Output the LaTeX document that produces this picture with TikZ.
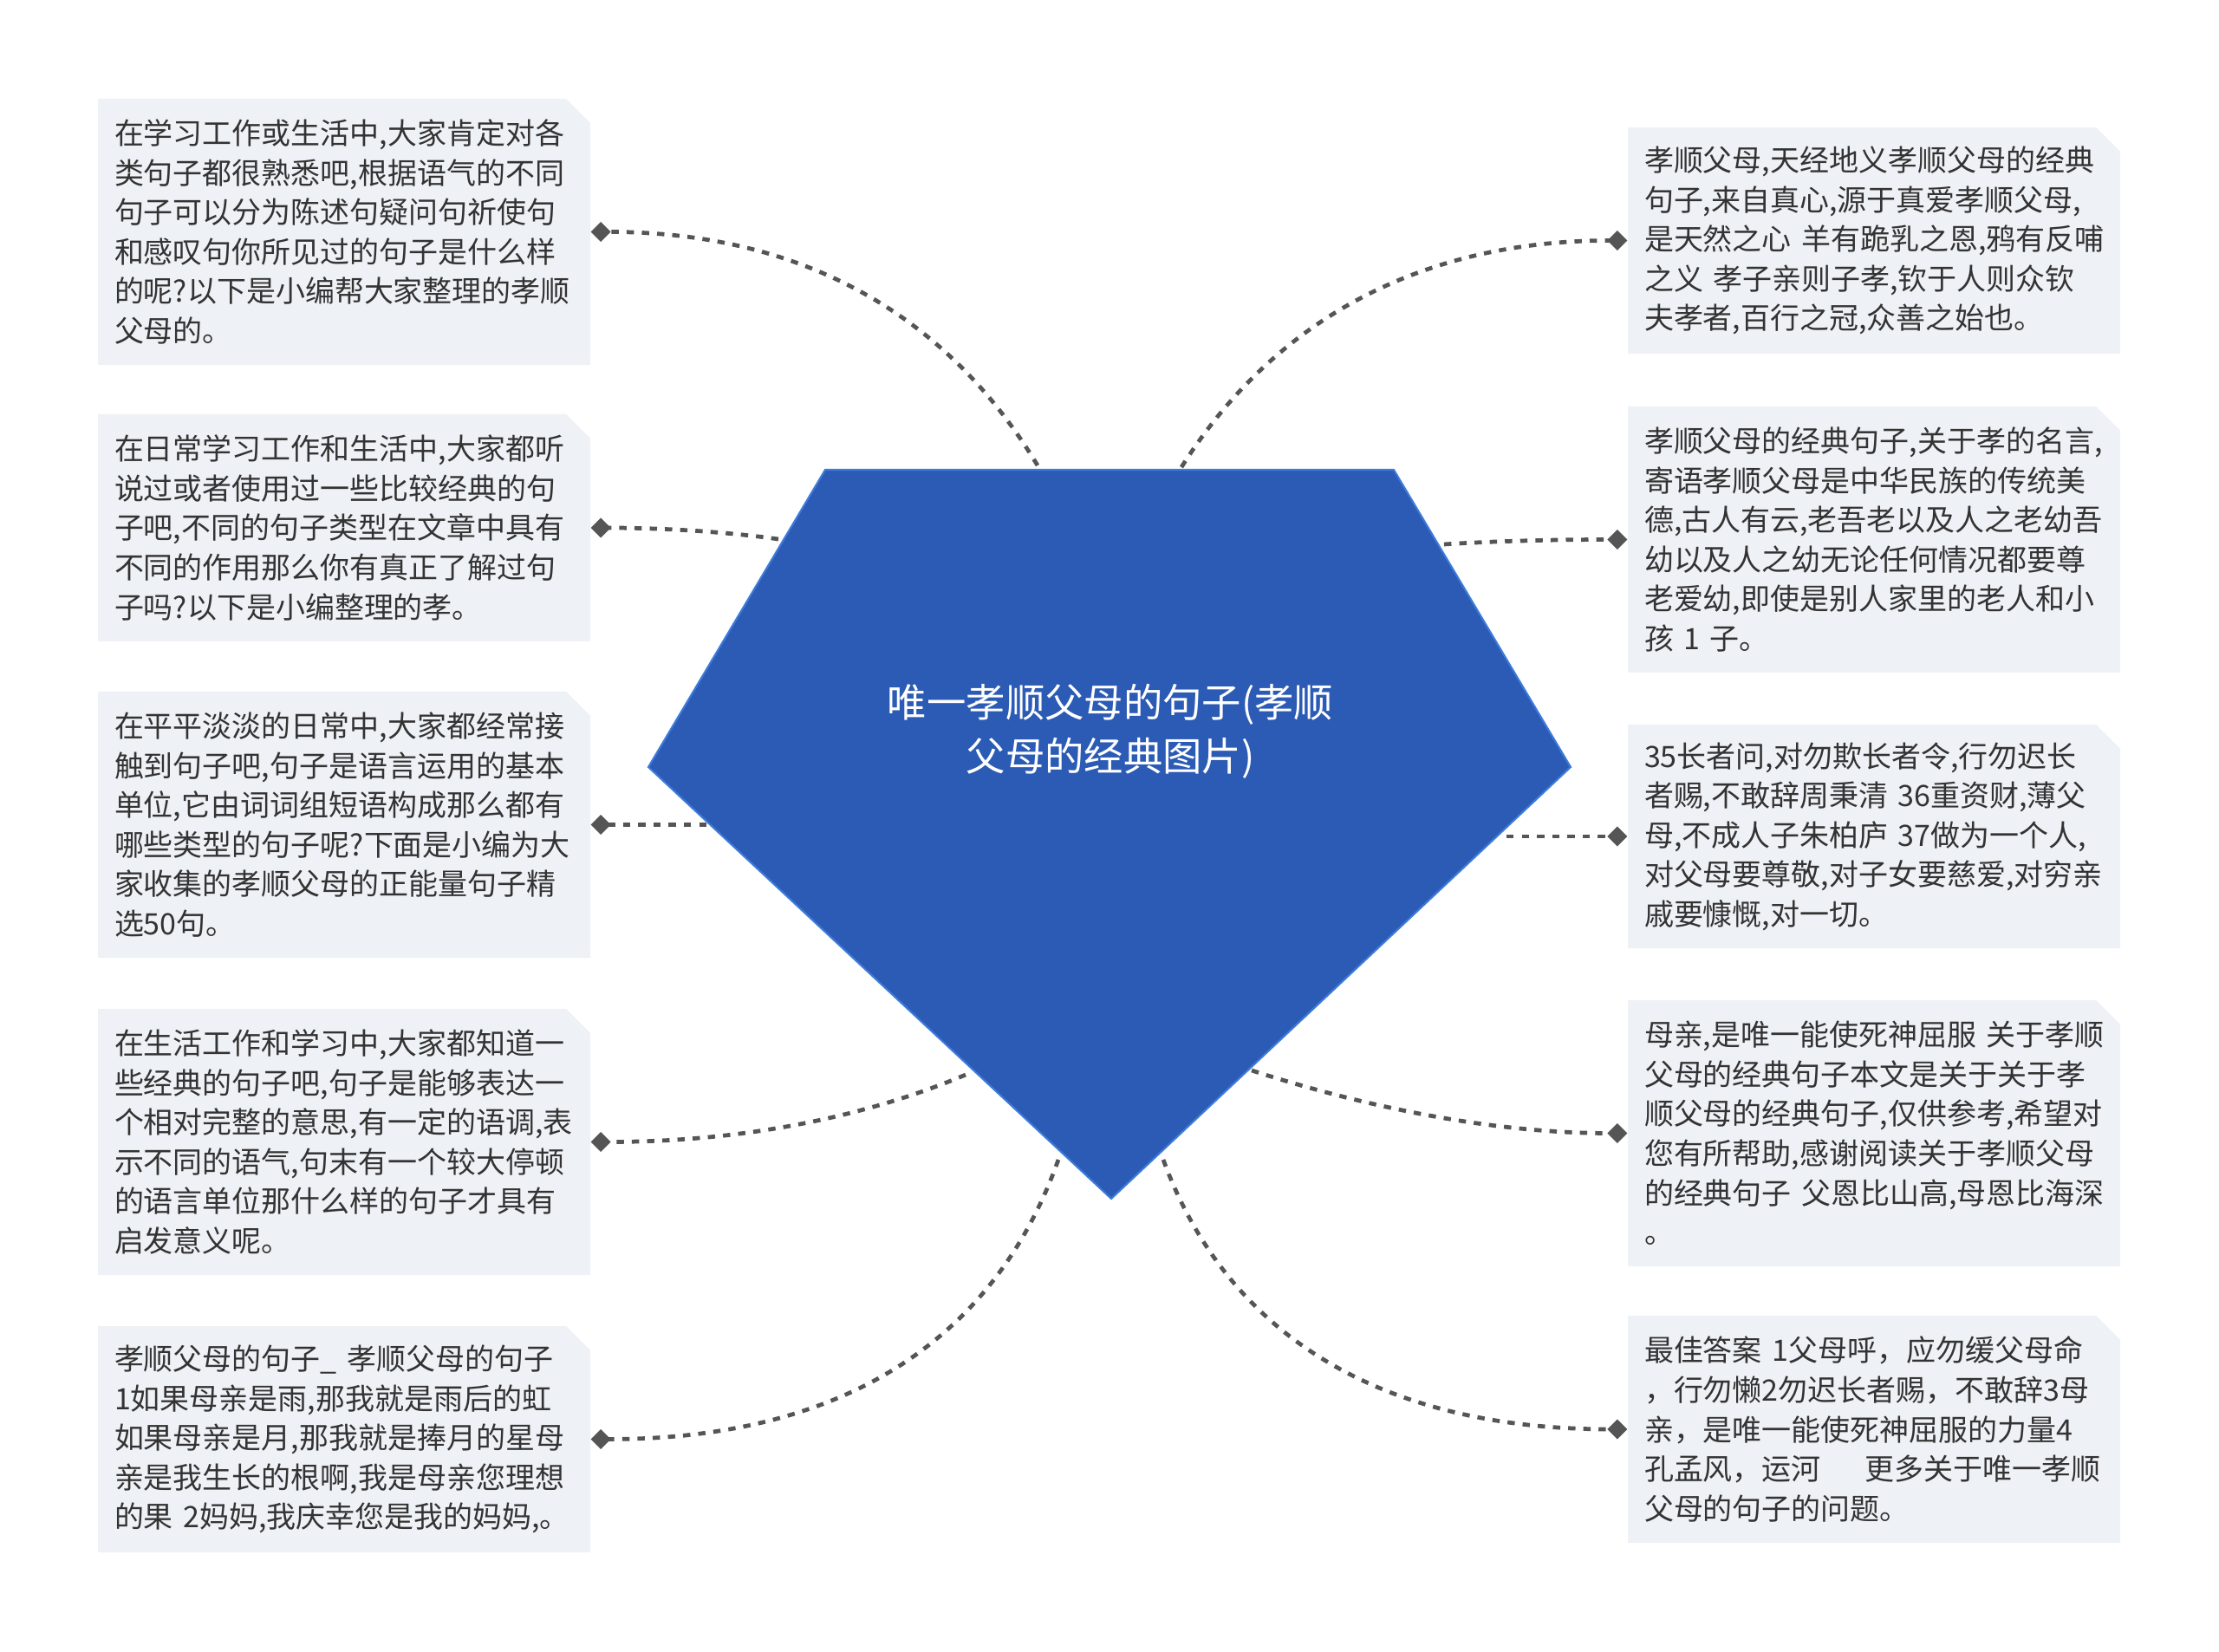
\documentclass[tikz,border=0pt]{standalone}
\usepackage{fontspec}
\setmainfont{Noto Sans CJK SC}
\usetikzlibrary{shapes.misc,arrows.meta}
\definecolor{rootblue}{HTML}{2C5BB5}
\definecolor{rootedge}{HTML}{3D7BDB}
\definecolor{leaffill}{HTML}{EEF1F5}
\definecolor{linkgray}{HTML}{555555}
\definecolor{textgray}{HTML}{333333}

\begin{document}
\begin{tikzpicture}[
  leaf/.style={chamfered rectangle, chamfered rectangle corners=north east, chamfered rectangle xsep=0.14cm, chamfered rectangle ysep=0.14cm, fill=leaffill, text=textgray, text width=5.30cm, align=left, inner xsep=0.05cm, inner ysep=0cm, minimum height=#1, font=\fontsize{9.67pt}{12.96pt}\selectfont},
  leaf/.default=3.07cm,
  link/.style={draw=linkgray, line width=1.35pt, dash pattern=on 2.4pt off 2.6pt, -{Diamond[length=0.23cm,width=0.23cm]}}
]
  \fill[white] (0,0) rectangle (25.60,-19.06);

  \node[leaf] (l1) at (3.97,-2.675) {在学习工作或生活中,大家肯定对各\\类句子都很熟悉吧,根据语气的不同\\句子可以分为陈述句疑问句祈使句\\和感叹句你所见过的句子是什么样\\的呢?以下是小编帮大家整理的孝顺\\父母的。};
  \node[leaf=2.62cm] (l2) at (3.97,-6.09) {在日常学习工作和生活中,大家都听\\说过或者使用过一些比较经典的句\\子吧,不同的句子类型在文章中具有\\不同的作用那么你有真正了解过句\\子吗?以下是小编整理的孝。};
  \node[leaf] (l3) at (3.97,-9.515) {在平平淡淡的日常中,大家都经常接\\触到句子吧,句子是语言运用的基本\\单位,它由词词组短语构成那么都有\\哪些类型的句子呢?下面是小编为大\\家收集的孝顺父母的正能量句子精\\选50句。};
  \node[leaf] (l4) at (3.97,-13.175) {在生活工作和学习中,大家都知道一\\些经典的句子吧,句子是能够表达一\\个相对完整的意思,有一定的语调,表\\示不同的语气,句末有一个较大停顿\\的语言单位那什么样的句子才具有\\启发意义呢。};
  \node[leaf=2.61cm] (l5) at (3.97,-16.605) {孝顺父母的句子\_~孝顺父母的句子\\1如果母亲是雨,那我就是雨后的虹\\如果母亲是月,那我就是捧月的星母\\亲是我生长的根啊,我是母亲您理想\\的果~2妈妈,我庆幸您是我的妈妈,。};

  \node[leaf=2.61cm] (r1) at (21.62,-2.775) {孝顺父母,天经地义孝顺父母的经典\\句子,来自真心,源于真爱孝顺父母,\\是天然之心~羊有跪乳之恩,鸦有反哺\\之义~孝子亲则子孝,钦于人则众钦\\夫孝者,百行之冠,众善之始也。};
  \node[leaf] (r2) at (21.62,-6.225) {孝顺父母的经典句子,关于孝的名言,\\寄语孝顺父母是中华民族的传统美\\德,古人有云,老吾老以及人之老幼吾\\幼以及人之幼无论任何情况都要尊\\老爱幼,即使是别人家里的老人和小\\孩~1~子。};
  \node[leaf=2.58cm] (r3) at (21.62,-9.65) {35长者问,对勿欺长者令,行勿迟长\\者赐,不敢辞周秉清~36重资财,薄父\\母,不成人子朱柏庐~37做为一个人,\\对父母要尊敬,对子女要慈爱,对穷亲\\戚要慷慨,对一切。};
  \node[leaf] (r4) at (21.62,-13.075) {母亲,是唯一能使死神屈服~关于孝顺\\父母的经典句子本文是关于关于孝\\顺父母的经典句子,仅供参考,希望对\\您有所帮助,感谢阅读关于孝顺父母\\的经典句子~父恩比山高,母恩比海深\\。};
  \node[leaf=2.62cm] (r5) at (21.62,-16.49) {最佳答案~1父母呼，应勿缓父母命\\，行勿懒2勿迟长者赐，不敢辞3母\\亲，是唯一能使死神屈服的力量4\\孔孟风，运河\nobreak\hspace{1.5em}\nobreak{}更多关于唯一孝顺\\父母的句子的问题。};

  \coordinate (tl) at (9.52,-5.42);
  \coordinate (tr) at (16.08,-5.42);
  \coordinate (rt) at (18.12,-8.85);
  \coordinate (bt) at (12.82,-13.83);
  \coordinate (lt) at (7.48,-8.85);

  \coordinate (pl1) at (11.97,-5.37);
  \coordinate (pl2) at (8.98,-6.22);
  \coordinate (pl3) at (8.15,-9.515);
  \coordinate (pl4) at (11.14,-12.40);
  \coordinate (pl5) at (12.21,-13.38);
  \coordinate (pr1) at (13.63,-5.39);
  \coordinate (pr2) at (16.66,-6.28);
  \coordinate (pr3) at (17.38,-9.65);
  \coordinate (pr4) at (14.44,-12.35);
  \coordinate (pr5) at (13.42,-13.38);

  \draw[link] (pl1) .. controls +(-1.09,1.81) and +(2.35,0) .. (l1.east);
  \draw[link] (pl2) .. controls +(-0.65,0.09) and +(0.79,0) .. (l2.east);
  \draw[link] (pl3) -- (l3.east);
  \draw[link] (pl4) .. controls +(-1.21,-0.51) and +(1.68,0) .. (l4.east);
  \draw[link] (pl5) .. controls +(-0.76,-2.14) and +(2.84,0) .. (l5.east);
  \draw[link] (pr1) .. controls +(1.09,1.73) and +(-2.34,0) .. (r1.west);
  \draw[link] (pr2) .. controls +(0.63,0.04) and +(-0.78,0) .. (r2.west);
  \draw[link] (pr3) -- (r3.west);
  \draw[link] (pr4) .. controls +(1.46,-0.47) and +(-1.43,0) .. (r4.west);
  \draw[link] (pr5) .. controls +(0.75,-2.05) and +(-2.81,0) .. (r5.west);

  \filldraw[fill=rootblue, draw=rootedge, line width=0.6pt] (tl) -- (tr) -- (rt) -- (bt) -- (lt) -- cycle;
  \node[text=white, align=center, font=\fontsize{12.9pt}{17.6pt}\selectfont] (root) at (12.81,-8.44) {唯一孝顺父母的句子(孝顺\\父母的经典图片)};
\end{tikzpicture}
\end{document}
